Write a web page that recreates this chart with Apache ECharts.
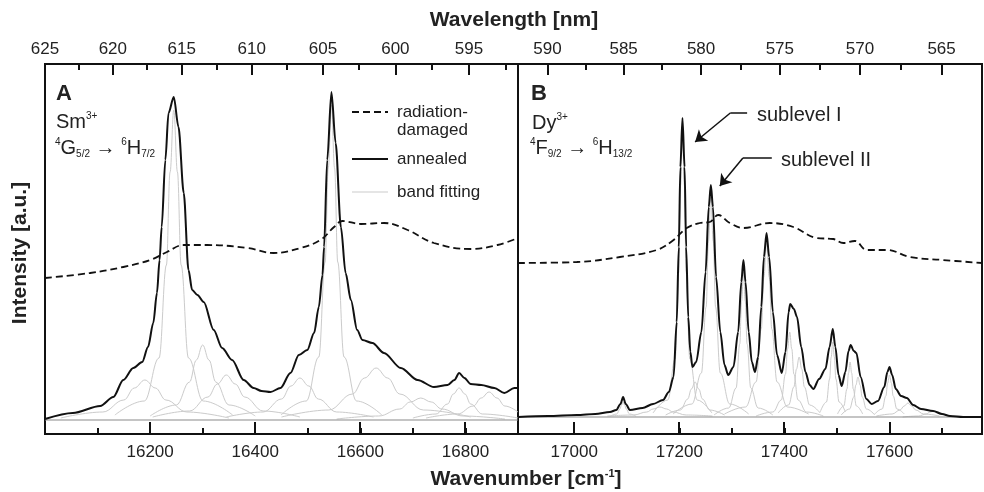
<!DOCTYPE html>
<html>
<head>
<meta charset="utf-8">
<title>Sm3+ / Dy3+ emission bands</title>
<script src="https://cdn.jsdelivr.net/npm/echarts@6.0.0/dist/echarts.min.js"></script>
<style>
  html, body { margin: 0; padding: 0; background: #fff; }
  #chart { width: 984px; height: 492px; }
</style>
</head>
<body>
<div id="chart"></div>
<script>
// wavenumber ranges of the two panels [cm-1]
const rangeA = [16000, 16900];
const rangeB = [16893, 17776];
const yRangeA = [-0.14, 3.56];
const yRangeB = [-0.17, 3.53];

// tick values
const bottomMajorA = [16200, 16400, 16600, 16800];
const bottomMinorA = [16100, 16300, 16500, 16700];
const bottomMajorB = [17000, 17200, 17400, 17600];
const bottomMinorB = [17100, 17300, 17500, 17700];
const topMajorNmA = [625, 620, 615, 610, 605, 600, 595];
const topMinorNmA = [622.5, 617.5, 612.5, 607.5, 602.5, 597.5, 592.5];
const topMajorNmB = [590, 585, 580, 575, 570, 565];
const topMinorNmB = [587.5, 582.5, 577.5, 572.5, 567.5];

// panel A: Sm3+ 4G5/2 -> 6H7/2
const annealedA = [
  [16000, 0.01], [16053, 0.07], [16105, 0.14], [16130, 0.23], [16149, 0.40], [16168, 0.52],
  [16185, 0.58], [16196, 0.73], [16206, 0.97], [16213, 1.27], [16218, 1.6], [16222, 1.93],
  [16229, 2.6], [16235, 3.07], [16245, 3.23], [16254, 2.93], [16264, 2.27], [16273, 1.5],
  [16280, 1.3], [16290, 1.25], [16302, 1.18], [16321, 0.90], [16337, 0.72], [16356, 0.60],
  [16378, 0.40], [16397, 0.32], [16412, 0.29], [16429, 0.28], [16448, 0.32], [16467, 0.47],
  [16483, 0.65], [16499, 0.70], [16512, 0.87], [16521, 1.13], [16528, 1.45], [16531, 1.73],
  [16537, 2.6], [16545, 3.28], [16553, 2.77], [16563, 1.93], [16572, 1.47], [16582, 1.2],
  [16594, 0.90], [16604, 0.80], [16623, 0.77], [16645, 0.67], [16677, 0.52], [16709, 0.40],
  [16740, 0.33], [16766, 0.35], [16779, 0.40], [16788, 0.47], [16798, 0.42], [16810, 0.36],
  [16830, 0.35], [16855, 0.32], [16874, 0.27], [16893, 0.32], [16900, 0.32]
];
const damagedA = [
  [16000, 1.42], [16086, 1.47], [16149, 1.53], [16200, 1.60], [16232, 1.68], [16264, 1.75],
  [16308, 1.75], [16385, 1.72], [16435, 1.67], [16486, 1.72], [16524, 1.80], [16550, 1.93],
  [16566, 1.99], [16601, 1.96], [16645, 1.97], [16690, 1.90], [16740, 1.77], [16810, 1.71],
  [16861, 1.75], [16900, 1.82]
];
const baseA = [[16000, 0], [16900, 0]];
const bandsA = [
  [[16030, 0.02], [16110, 0.08], [16150, 0.2], [16170, 0.32], [16190, 0.40], [16210, 0.32], [16230, 0.2], [16270, 0.08], [16350, 0.02]],
  [[16133, 0.05], [16189, 0.19], [16217, 0.62], [16231, 1.55], [16238, 2.48], [16245, 3.10], [16252, 2.48], [16259, 1.55], [16273, 0.62], [16301, 0.19], [16357, 0.05]],
  [[16200, 0.04], [16250, 0.15], [16275, 0.38], [16288, 0.6], [16300, 0.75], [16312, 0.6], [16325, 0.38], [16350, 0.15], [16400, 0.04]],
  [[16205, 0.03], [16275, 0.09], [16310, 0.23], [16328, 0.36], [16345, 0.45], [16362, 0.36], [16380, 0.23], [16415, 0.09], [16485, 0.03]],
  [[16345, 0.03], [16415, 0.08], [16450, 0.21], [16468, 0.34], [16485, 0.42], [16502, 0.34], [16520, 0.21], [16555, 0.08], [16625, 0.03]],
  [[16449, 0.05], [16497, 0.19], [16521, 0.63], [16533, 1.58], [16539, 2.52], [16545, 3.15], [16551, 2.52], [16557, 1.58], [16569, 0.63], [16593, 0.19], [16641, 0.05]],
  [[16450, 0.03], [16540, 0.1], [16585, 0.26], [16608, 0.42], [16630, 0.52], [16652, 0.42], [16675, 0.26], [16720, 0.1], [16810, 0.03]],
  [[16555, 0.01], [16635, 0.04], [16675, 0.11], [16695, 0.18], [16715, 0.22], [16735, 0.18], [16755, 0.11], [16795, 0.04], [16875, 0.01]],
  [[16700, 0.02], [16744, 0.06], [16766, 0.16], [16777, 0.26], [16788, 0.32], [16799, 0.26], [16810, 0.16], [16832, 0.06], [16900, 0.02]],
  [[16725, 0.02], [16785, 0.06], [16815, 0.14], [16830, 0.22], [16845, 0.28], [16860, 0.22], [16875, 0.14], [16900, 0.08]]
];

// panel B: Dy3+ 4F9/2 -> 6H13/2
const annealedB = [
  [16893, 0.0], [16950, 0.01], [17005, 0.02], [17040, 0.03], [17068, 0.05], [17080, 0.07],
  [17088, 0.13], [17093, 0.20], [17098, 0.13], [17106, 0.07], [17130, 0.09], [17150, 0.13],
  [17169, 0.17], [17180, 0.25], [17189, 0.40], [17195, 0.95], [17199, 1.7], [17202, 2.5],
  [17206, 2.99], [17210, 2.5], [17213, 1.7], [17217, 1.0], [17221, 0.65], [17225, 0.50],
  [17232, 0.55], [17242, 0.85], [17250, 1.45], [17256, 2.1], [17260, 2.32], [17264, 2.1],
  [17270, 1.4], [17278, 0.85], [17286, 0.52], [17293, 0.42], [17303, 0.50], [17312, 0.85],
  [17318, 1.35], [17322, 1.57], [17326, 1.35], [17332, 0.85], [17338, 0.55], [17344, 0.45],
  [17350, 0.6], [17356, 1.1], [17361, 1.6], [17366, 1.84], [17371, 1.6], [17378, 1.05],
  [17386, 0.62], [17395, 0.44], [17402, 0.65], [17408, 1.05], [17411, 1.13], [17418, 1.08],
  [17424, 1.0], [17432, 0.7], [17440, 0.45], [17448, 0.32], [17455, 0.28], [17466, 0.38],
  [17478, 0.48], [17486, 0.7], [17492, 0.88], [17497, 0.7], [17503, 0.42], [17509, 0.31],
  [17516, 0.45], [17522, 0.66], [17526, 0.72], [17532, 0.66], [17537, 0.64], [17545, 0.40],
  [17556, 0.18], [17566, 0.13], [17578, 0.16], [17590, 0.30], [17596, 0.45], [17600, 0.50],
  [17605, 0.42], [17612, 0.28], [17622, 0.21], [17633, 0.19], [17645, 0.12], [17660, 0.08],
  [17683, 0.06], [17700, 0.03], [17715, 0.01], [17740, 0.0], [17776, 0.0]
];
const damagedB = [
  [16893, 1.54], [17005, 1.55], [17087, 1.60], [17157, 1.67], [17189, 1.77], [17214, 1.89],
  [17239, 1.94], [17258, 1.95], [17274, 2.02], [17296, 1.94], [17322, 1.89], [17372, 1.94],
  [17417, 1.90], [17461, 1.79], [17493, 1.78], [17512, 1.74], [17534, 1.76], [17557, 1.67],
  [17595, 1.67], [17639, 1.60], [17702, 1.57], [17776, 1.54]
];
const baseB = [[16893, 0], [17776, 0]];
const bandsB = [
  [[17069, 0.01], [17081, 0.03], [17087, 0.08], [17090, 0.12], [17093, 0.15], [17096, 0.12], [17099, 0.08], [17105, 0.03], [17117, 0.01]],
  [[17063, 0.01], [17113, 0.02], [17138, 0.05], [17150, 0.08], [17163, 0.10], [17176, 0.08], [17188, 0.05], [17213, 0.02], [17263, 0.01]],
  [[17150, 0.04], [17178, 0.17], [17192, 0.58], [17199, 1.45], [17202.5, 2.32], [17206, 2.9], [17209.5, 2.32], [17213, 1.45], [17220, 0.58], [17234, 0.17], [17262, 0.04]],
  [[17174, 0.02], [17202, 0.07], [17216, 0.18], [17223, 0.28], [17230, 0.35], [17237, 0.28], [17244, 0.18], [17258, 0.07], [17286, 0.02]],
  [[17188, 0.03], [17224, 0.13], [17242, 0.44], [17251, 1.1], [17255.5, 1.76], [17260, 2.2], [17264.5, 1.76], [17269, 1.1], [17278, 0.44], [17296, 0.13], [17332, 0.03]],
  [[17266, 0.02], [17294, 0.09], [17308, 0.29], [17315, 0.73], [17318.5, 1.16], [17322, 1.45], [17325.5, 1.16], [17329, 0.73], [17336, 0.29], [17350, 0.09], [17378, 0.02]],
  [[17286, 0.03], [17326, 0.1], [17346, 0.35], [17356, 0.88], [17361, 1.4], [17366, 1.75], [17371, 1.4], [17376, 0.88], [17386, 0.35], [17406, 0.1], [17446, 0.03]],
  [[17346, 0.01], [17378, 0.05], [17394, 0.17], [17402, 0.43], [17406, 0.68], [17410, 0.85], [17414, 0.68], [17418, 0.43], [17426, 0.17], [17442, 0.05], [17474, 0.01]],
  [[17388, 0.04], [17408, 0.12], [17418, 0.3], [17423, 0.48], [17428, 0.6], [17433, 0.48], [17438, 0.3], [17448, 0.12], [17468, 0.04]],
  [[17468, 0.05], [17480, 0.15], [17486, 0.38], [17489, 0.6], [17492, 0.75], [17495, 0.6], [17498, 0.38], [17504, 0.15], [17516, 0.05]],
  [[17501, 0.03], [17513, 0.11], [17519, 0.28], [17522, 0.44], [17525, 0.55], [17528, 0.44], [17531, 0.28], [17537, 0.11], [17549, 0.03]],
  [[17508, 0.02], [17524, 0.08], [17532, 0.2], [17536, 0.32], [17540, 0.4], [17544, 0.32], [17548, 0.2], [17556, 0.08], [17572, 0.02]],
  [[17572, 0.03], [17586, 0.08], [17593, 0.21], [17596.5, 0.34], [17600, 0.42], [17603.5, 0.34], [17607, 0.21], [17614, 0.08], [17628, 0.03]],
  [[17575, 0.01], [17605, 0.03], [17620, 0.07], [17628, 0.11], [17635, 0.14], [17642, 0.11], [17650, 0.07], [17665, 0.03], [17695, 0.01]],
  [[17625, 0.0], [17655, 0.01], [17670, 0.03], [17677, 0.05], [17685, 0.06], [17693, 0.05], [17700, 0.03], [17715, 0.01], [17745, 0.0]]
];

// "sublevel" arrows: elbow point list, last point is the arrow tip
const arrowI = [[17329, 3.04], [17297, 3.04], [17230, 2.75]];
const arrowII = [[17376, 2.59], [17321, 2.59], [17277, 2.31]];

const FONT = '"Liberation Sans", Arial, sans-serif';
const INK = '#111';
const TXT = '#222';
const GRAY = '#cbcbcb';

const toWn = nm => 1e7 / nm;

// overlaid x axes per panel: bottom (scale + short ticks),
// top labels + major ticks (wavelength), top minor ticks
function xAxes(gridIndex, range, bottomMajor, bottomMinor, topMajor, topMinor) {
  const common = {
    type: 'value', gridIndex: gridIndex, min: range[0], max: range[1],
    axisLine: { show: false, onZero: false }, splitLine: { show: false }
  };
  const tick = (vals, len) => ({ show: true, inside: true, length: len, lineStyle: { color: INK, width: 2 }, customValues: vals });
  return [
    Object.assign({}, common, {
      position: 'bottom',
      axisTick: tick(bottomMinor.concat(bottomMajor).sort((a, b) => a - b), 6),
      axisLabel: { show: false }
    }),
    Object.assign({}, common, {
      position: 'top', axisTick: tick(topMajor.map(toWn), 11),
      axisLabel: {
        customValues: topMajor.map(toWn), fontSize: 17, fontFamily: FONT, color: TXT, margin: 6,
        formatter: v => String(Math.round(1e7 / v))
      }
    }),
    Object.assign({}, common, { position: 'top', axisTick: tick(topMinor.map(toWn), 6), axisLabel: { show: false } })
  ];
}

// long bottom ticks with their labels, placed through the panel's own scales
function majorTickSeries(values, xi, yi, yMin) {
  return {
    type: 'custom', xAxisIndex: xi, yAxisIndex: yi, silent: true, clip: false, z: 20,
    data: values.map(v => [v, yMin]),
    renderItem: (params, api) => {
      const p = api.coord([api.value(0), api.value(1)]);
      return {
        type: 'group',
        children: [
          { type: 'rect', shape: { x: Math.round(p[0]) - 1, y: p[1] - 12, width: 2, height: 12 }, style: { fill: INK } },
          {
            type: 'text', x: p[0], y: p[1] + 18,
            style: { text: String(api.value(0)), align: 'center', verticalAlign: 'middle', fill: TXT, font: '17px ' + FONT }
          }
        ]
      };
    }
  };
}

function bandSeries(bands, xi, yi) {
  return bands.map(b => ({
    type: 'line', xAxisIndex: xi, yAxisIndex: yi, data: b, smooth: 0.4, smoothMonotone: 'x',
    showSymbol: false, silent: true, lineStyle: { color: GRAY, width: 1 }
  }));
}

function arrowLines(pts) {
  return [
    [{ coord: pts[0], symbol: 'none' }, { coord: pts[1], symbol: 'none' }],
    [{ coord: pts[1], symbol: 'none' }, { coord: pts[2], symbol: 'arrow' }]
  ];
}

// plain text label
function label(x, y, text, font, extra) {
  return Object.assign({
    type: 'text', x: x, y: y, silent: true,
    style: { text: text, align: 'left', verticalAlign: 'middle', fill: TXT, font: font + ' ' + FONT }
  }, extra || {});
}

// rich text label (super/subscripts)
function richLabel(x, y, text, rich, align) {
  return {
    type: 'text', x: x, y: y, silent: true,
    style: { text: text, rich: rich, align: align || 'left', verticalAlign: 'middle', fill: TXT }
  };
}

const ionRich = {
  m: { fontSize: 20, fontFamily: FONT, color: TXT, lineHeight: 22, verticalAlign: 'middle' },
  p: { fontSize: 10, fontFamily: FONT, color: TXT, lineHeight: 11, verticalAlign: 'top' },
  s: { fontSize: 10, fontFamily: FONT, color: TXT, lineHeight: 11, verticalAlign: 'bottom' }
};
const titleRich = {
  b: { fontSize: 21, fontWeight: 'bold', fontFamily: FONT, color: TXT, lineHeight: 22, verticalAlign: 'middle' },
  p: { fontSize: 11, fontWeight: 'bold', fontFamily: FONT, color: TXT, lineHeight: 12, verticalAlign: 'top' }
};

const chart = echarts.init(document.getElementById('chart'));
chart.setOption({
  animation: false,
  backgroundColor: '#fff',
  grid: [
    { left: 45, top: 64, width: 473, height: 370, show: true, borderColor: INK, borderWidth: 2, backgroundColor: 'transparent' },
    { left: 518, top: 64, width: 464, height: 370, show: true, borderColor: INK, borderWidth: 2, backgroundColor: 'transparent' }
  ],
  xAxis: [].concat(
    xAxes(0, rangeA, bottomMajorA, bottomMinorA, topMajorNmA, topMinorNmA),
    xAxes(1, rangeB, bottomMajorB, bottomMinorB, topMajorNmB, topMinorNmB)
  ),
  yAxis: [
    { type: 'value', gridIndex: 0, min: yRangeA[0], max: yRangeA[1], show: false },
    { type: 'value', gridIndex: 1, min: yRangeB[0], max: yRangeB[1], show: false }
  ],
  series: [].concat(
    bandSeries(bandsA, 0, 0),
    bandSeries(bandsB, 3, 1),
    [
      { type: 'line', xAxisIndex: 0, yAxisIndex: 0, data: baseA, showSymbol: false, silent: true, lineStyle: { color: '#8a8a8a', width: 1.2 } },
      { type: 'line', xAxisIndex: 3, yAxisIndex: 1, data: baseB, showSymbol: false, silent: true, lineStyle: { color: '#8a8a8a', width: 1.2 } },
      { name: 'radiation-damaged', type: 'line', xAxisIndex: 0, yAxisIndex: 0, data: damagedA, smooth: 0.4, showSymbol: false, lineStyle: { color: INK, width: 1.8, type: [7, 4] } },
      { name: 'radiation-damaged', type: 'line', xAxisIndex: 3, yAxisIndex: 1, data: damagedB, smooth: 0.4, showSymbol: false, lineStyle: { color: INK, width: 1.8, type: [7, 4] } },
      { name: 'annealed', type: 'line', xAxisIndex: 0, yAxisIndex: 0, data: annealedA, smooth: 0.3, smoothMonotone: 'x', showSymbol: false, lineStyle: { color: INK, width: 2 } },
      {
        name: 'annealed', type: 'line', xAxisIndex: 3, yAxisIndex: 1, data: annealedB, smooth: 0.3, smoothMonotone: 'x', showSymbol: false, lineStyle: { color: INK, width: 2 },
        markLine: {
          silent: true, animation: false, symbolSize: 11, label: { show: false },
          lineStyle: { color: INK, width: 1.5, type: 'solid' },
          data: arrowLines(arrowI).concat(arrowLines(arrowII))
        }
      },
      majorTickSeries(bottomMajorA, 0, 0, yRangeA[0]),
      majorTickSeries(bottomMajorB, 3, 1, yRangeB[0])
    ]
  ),
  graphic: [
    label(514, 20, 'Wavelength [nm]', 'bold 21px', { style: { text: 'Wavelength [nm]', align: 'center', verticalAlign: 'middle', fill: TXT, font: 'bold 21px ' + FONT } }),
    richLabel(526, 479, '{b|Wavenumber [cm}{p|-1}{b|]}', titleRich, 'center'),
    label(20, 253, 'Intensity [a.u.]', 'bold 21px', { rotation: Math.PI / 2, style: { text: 'Intensity [a.u.]', align: 'center', verticalAlign: 'middle', fill: TXT, font: 'bold 21px ' + FONT } }),

    label(56, 94, 'A', 'bold 22px'),
    richLabel(56, 122, '{m|Sm}{p|3+}', ionRich),
    richLabel(55, 148, '{p|4}{m|G}{s|5/2}{m| → }{p|6}{m|H}{s|7/2}', ionRich),
    label(531, 94, 'B', 'bold 22px'),
    richLabel(532, 123, '{m|Dy}{p|3+}', ionRich),
    richLabel(530, 148, '{p|4}{m|F}{s|9/2}{m| → }{p|6}{m|H}{s|13/2}', ionRich),

    // legend of panel A
    { type: 'line', silent: true, shape: { x1: 352, y1: 112, x2: 388, y2: 112 }, style: { stroke: INK, lineWidth: 1.8, lineDash: [7, 4] } },
    { type: 'line', silent: true, shape: { x1: 352, y1: 159, x2: 388, y2: 159 }, style: { stroke: INK, lineWidth: 2 } },
    { type: 'line', silent: true, shape: { x1: 352, y1: 192, x2: 388, y2: 192 }, style: { stroke: GRAY, lineWidth: 1 } },
    label(397, 112, 'radiation-', '17px'),
    label(397, 130, 'damaged', '17px'),
    label(397, 159, 'annealed', '17px'),
    label(397, 192, 'band fitting', '17px'),

    label(757, 115, 'sublevel I', '20px'),
    label(781, 160, 'sublevel II', '20px')
  ]
});
</script>
</body>
</html>
